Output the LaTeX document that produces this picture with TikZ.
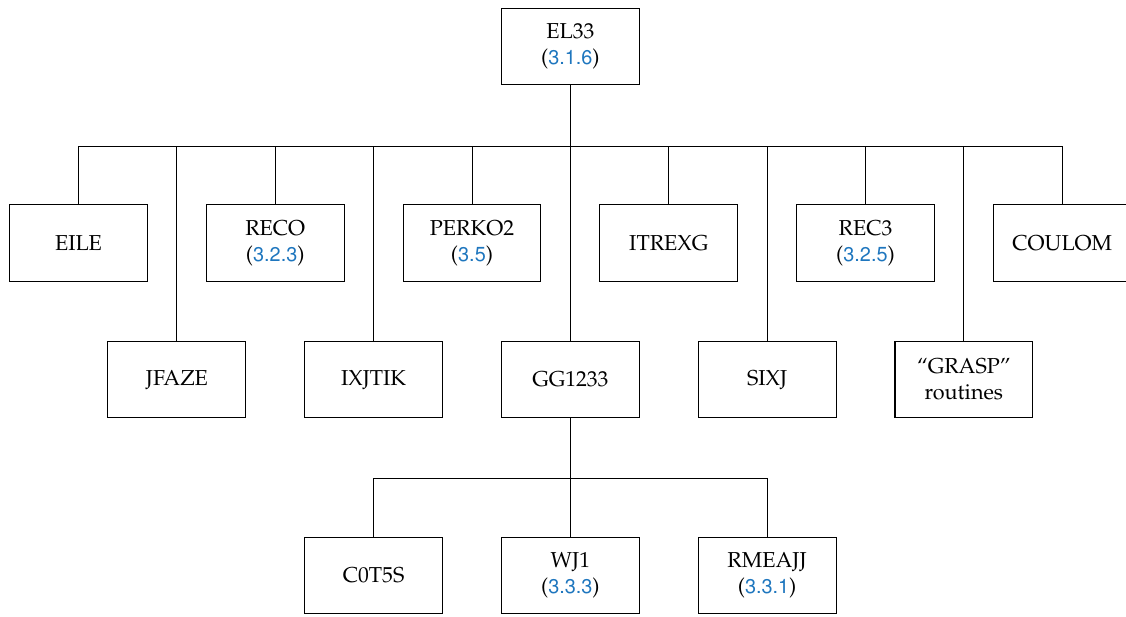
\documentclass[tikz,border=0pt]{standalone}
\usepackage[T1]{fontenc}
\usepackage{mathpazo}
\usepackage[scaled=0.92]{helvet}
\usepackage{tikz}
\definecolor{refblue}{RGB}{30,118,190}
\newcommand{\secref}[1]{(\textcolor{refblue}{\textsf{#1}})}

\begin{document}
\begin{tikzpicture}[
    routine/.style={draw, line width=0.5pt, minimum width=2.42cm, minimum height=1.34cm,
        align=center, inner sep=2pt, font=\fontsize{10.8}{13}\selectfont},
    link/.style={line width=0.5pt}]
    \useasboundingbox (-1.379,0.817) rectangle (18.40,-10.006);

    % top
    \node[routine] (el33) at (8.64,0) {EL33\\\secref{3.1.6}};

    % first level
    \node[routine] (eile)   at (0,-3.45)     {EILE};
    \node[routine] (jfaze)  at (1.728,-5.85)  {JFAZE};
    \node[routine] (reco)   at (3.456,-3.45)  {RECO\\\secref{3.2.3}};
    \node[routine] (ixjtik) at (5.184,-5.85)  {IXJTIK};
    \node[routine] (perko)  at (6.912,-3.45)  {PERKO2\\\secref{3.5}};
    \node[routine] (gg)     at (8.64,-5.85)   {GG1233};
    \node[routine] (itrexg) at (10.368,-3.45) {ITREXG};
    \node[routine] (sixj)   at (12.096,-5.85) {SIXJ};
    \node[routine] (rec3)   at (13.824,-3.45) {REC3\\\secref{3.2.5}};
    \node[routine] (grasp)  at (15.552,-5.85) {``GRASP''\\routines};
    \node[routine] (coulom) at (17.28,-3.45)  {COULOM};

    % second level
    \node[routine] (cots)   at (5.184,-9.29)  {C0T5S};
    \node[routine] (wj)     at (8.64,-9.29)   {WJ1\\\secref{3.3.3}};
    \node[routine] (rmeajj) at (12.096,-9.29) {RMEAJJ\\\secref{3.3.1}};

    \coordinate (bar1) at (0,-1.75);
    \coordinate (bar2) at (0,-7.58);

    \draw[link] (el33.south) -- (el33.south |- bar1);
    \draw[link] (eile.north |- bar1) -- (coulom.north |- bar1);
    \foreach \n in {eile,jfaze,reco,ixjtik,perko,gg,itrexg,sixj,rec3,grasp,coulom}
        \draw[link] (\n.north) -- (\n.north |- bar1);

    \draw[link] (gg.south) -- (gg.south |- bar2);
    \draw[link] (cots.north |- bar2) -- (rmeajj.north |- bar2);
    \foreach \n in {cots,wj,rmeajj}
        \draw[link] (\n.north) -- (\n.north |- bar2);
\end{tikzpicture}
\end{document}
